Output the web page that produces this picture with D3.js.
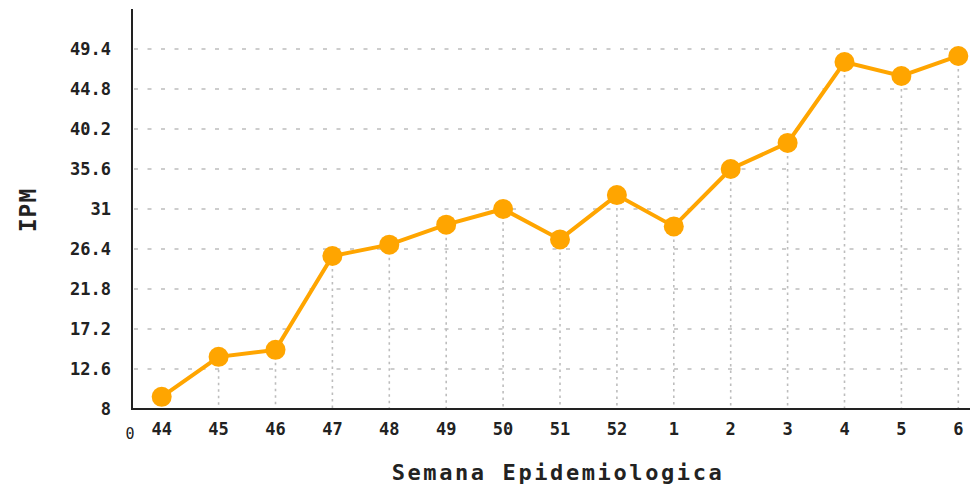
<!DOCTYPE html>
<html><head><meta charset="utf-8">
<script src="https://cdn.jsdelivr.net/npm/d3@7"></script>
<style>
body{margin:0;background:#fff;}
svg{display:block;}
text{font-family:"DejaVu Sans Mono",monospace;font-weight:bold;fill:#222;}
</style></head>
<body><svg id="c" width="972" height="486"></svg>
<script>
const weeks = ["44","45","46","47","48","49","50","51","52","1","2","3","4","5","6"];
const ipm = [9.4,14.0,14.8,25.6,26.9,29.2,31.0,27.5,32.6,29.0,35.6,38.6,47.9,46.3,48.6];
const yTicks = [8,12.6,17.2,21.8,26.4,31,35.6,40.2,44.8,49.4];
const yDomain = [8,54];

const svg = d3.select("#c");
const x0 = 132, x1 = 970, yBot = 409, yTop = 9;
const x = d3.scalePoint().domain(weeks).range([161.7, 958.3]);
const y = d3.scaleLinear().domain(yDomain).range([yBot, yTop]);

// horizontal gridlines
svg.append("g").selectAll("line").data(yTicks.filter(t=>t>yDomain[0])).join("line")
  .attr("x1",x0+2).attr("x2",x1).attr("y1",d=>y(d)).attr("y2",d=>y(d))
  .attr("stroke","#bdbdbd").attr("stroke-width",1.6).attr("stroke-dasharray","4,9.5");

// drop lines
svg.append("g").selectAll("line").data(weeks).join("line")
  .attr("x1",d=>x(d)).attr("x2",d=>x(d))
  .attr("y1",(d,i)=>y(ipm[i])).attr("y2",yBot)
  .attr("stroke","#bdbdbd").attr("stroke-width",1.6).attr("stroke-dasharray","2.5,4");

// axes lines
svg.append("line").attr("x1",x0).attr("x2",x0).attr("y1",yTop).attr("y2",yBot+1)
  .attr("stroke","#222").attr("stroke-width",2);
svg.append("line").attr("x1",x0).attr("x2",x1).attr("y1",yBot).attr("y2",yBot)
  .attr("stroke","#222").attr("stroke-width",2);

// y tick labels
svg.append("g").selectAll("text").data(yTicks).join("text")
  .attr("x",111).attr("y",d=>y(d)).attr("dy","0.35em")
  .attr("text-anchor","end").style("font-size","17px")
  .text(d=>d3.format("")(d));

// x tick labels
svg.append("g").selectAll("text").data(weeks).join("text")
  .attr("x",d=>x(d)).attr("y",435)
  .attr("text-anchor","middle").style("font-size","17px")
  .text(d=>d);

svg.append("text").attr("x",130).attr("y",439).attr("text-anchor","middle")
  .style("font-size","15px").style("font-weight","normal").text("0");

// titles
svg.append("text").attr("transform","translate(36,210) rotate(-90)")
  .attr("text-anchor","middle").style("font-size","23px").style("letter-spacing","1px").text("IPM");
svg.append("text").attr("x",558).attr("y",480).attr("text-anchor","middle")
  .style("font-size","22px").style("letter-spacing","2.6px").text("Semana Epidemiologica");

// line and markers
const line = d3.line().x((d,i)=>x(weeks[i])).y(d=>y(d));
svg.append("path").datum(ipm).attr("d",line).attr("fill","none")
  .attr("stroke","#FFA500").attr("stroke-width",4);
svg.append("g").selectAll("circle").data(ipm).join("circle")
  .attr("cx",(d,i)=>x(weeks[i])).attr("cy",d=>y(d)).attr("r",10)
  .attr("fill","#FFA500");
</script></body></html>
